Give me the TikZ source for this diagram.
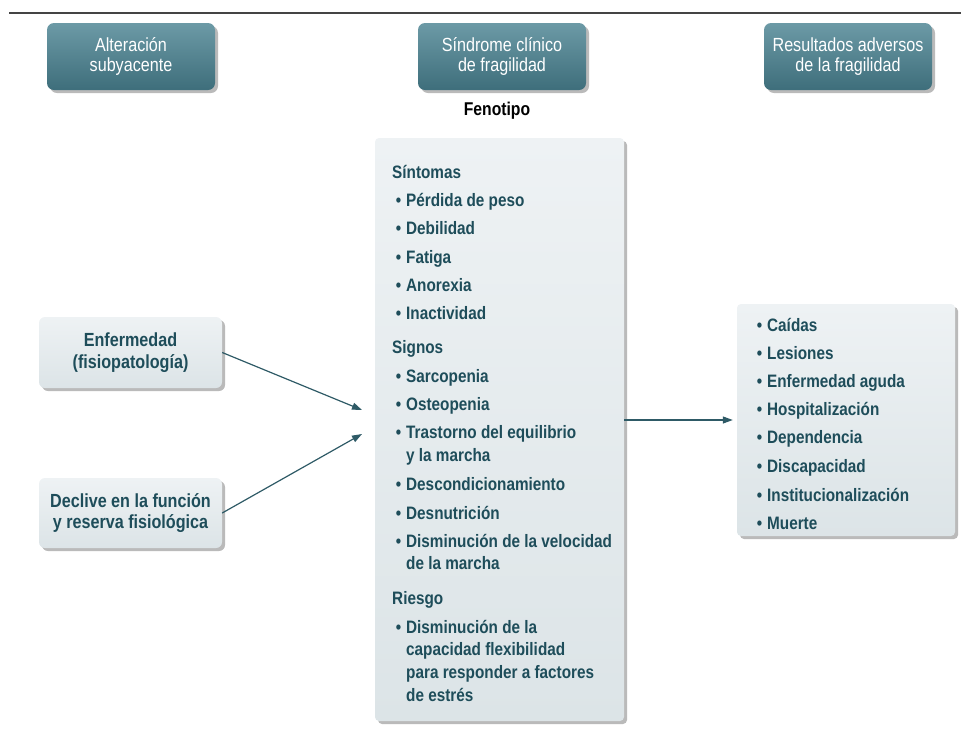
\documentclass[tikz,border=0pt]{standalone}
\usepackage{fontspec}
\setmainfont{Liberation Sans}[FakeStretch=0.85]
\usetikzlibrary{shadows,arrows.meta}
\definecolor{hdrtop}{HTML}{6C9AA6}
\definecolor{hdrbot}{HTML}{3E6E7B}
\definecolor{boxtop}{HTML}{EEF2F4}
\definecolor{boxbot}{HTML}{DCE4E7}
\definecolor{txtc}{HTML}{1E4D5A}
\definecolor{arrc}{HTML}{2E5A66}
\definecolor{linec}{HTML}{444444}
\newcommand{\hdrfont}{\fontsize{19}{20.5}\selectfont}
\newcommand{\lbfont}{\bfseries\fontsize{19}{21.5}\selectfont}
\newcommand{\bodyfont}{\bfseries\fontsize{18}{22}\selectfont}
\newcommand{\bul}{\llap{\textbullet\hspace{5pt}}}
\begin{document}
\begin{tikzpicture}[x=1pt,y=-1pt,
  shad/.style={drop shadow={shadow xshift=3pt,shadow yshift=-3pt,fill=black!45,opacity=0.6}},
  hdr/.style={rounded corners=7pt,top color=hdrtop,bottom color=hdrbot,draw=none,shad,
    minimum width=168pt,minimum height=67pt,align=center,text=white,font=\hdrfont,inner sep=0pt},
  lbox/.style={rounded corners=6pt,top color=boxtop,bottom color=boxbot,draw=none,shad,
    align=center,text=txtc,font=\lbfont,inner sep=0pt},
  bigbox/.style={rounded corners=4pt,top color=boxtop,bottom color=boxbot,draw=none,shad,inner sep=0pt},
  itm/.style={anchor=base west,inner sep=0pt,text=txtc,font=\bodyfont},
  arr/.style={draw=arrc,line width=1.2pt,-{Triangle[length=10pt,width=7pt]}}]
\useasboundingbox (0,0) rectangle (961,729);
% top rule
\coordinate (r1) at (9,13);
\coordinate (r2) at (961,13);
\draw[linec,line width=1.5pt] (r1) -- (r2);
% headers
\node[hdr] (h1) at (131,56.5) {Alteración\\subyacente};
\node[hdr] (h2) at (502,56.5) {Síndrome clínico\\de fragilidad};
\node[hdr] (h3) at (848,56.5) {Resultados adversos\\de la fragilidad};
\node[font=\bfseries\fontsize{18.5}{20}\selectfont,text=black,inner sep=0pt] (fen) at (497,111) {Fenotipo};
% left boxes
\node[lbox,minimum width=183pt,minimum height=71pt] (e1) at (130.5,352.5) {Enfermedad\\(fisiopatología)};
\node[lbox,minimum width=183pt,minimum height=70pt] (e2) at (130.5,513) {Declive en la función\\y reserva fisiológica};
% central box
\node[bigbox,minimum width=249pt,minimum height=583pt] (cb) at (499.5,429.5) {};
% right box
\node[bigbox,minimum width=218pt,minimum height=232pt] (rb) at (846,420) {};
% central text
\node[itm] (c0) at (392,178) {Síntomas};
\node[itm] (c1) at (406,206) {\bul Pérdida de peso};
\node[itm] (c2) at (406,234) {\bul Debilidad};
\node[itm] (c3) at (406,263) {\bul Fatiga};
\node[itm] (c4) at (406,291) {\bul Anorexia};
\node[itm] (c5) at (406,319) {\bul Inactividad};
\node[itm] (c6) at (392,353) {Signos};
\node[itm] (c7) at (406,382) {\bul Sarcopenia};
\node[itm] (c8) at (406,410) {\bul Osteopenia};
\node[itm] (c9) at (406,438) {\bul Trastorno del equilibrio};
\node[itm] (c10) at (406,461) {y la marcha};
\node[itm] (c11) at (406,490) {\bul Descondicionamiento};
\node[itm] (c12) at (406,519) {\bul Desnutrición};
\node[itm] (c13) at (406,547) {\bul Disminución de la velocidad};
\node[itm] (c14) at (406,569) {de la marcha};
\node[itm] (c15) at (392,604) {Riesgo};
\node[itm] (c16) at (406,633) {\bul Disminución de la};
\node[itm] (c17) at (406,655) {capacidad flexibilidad};
\node[itm] (c18) at (406,678) {para responder a factores};
\node[itm] (c19) at (406,701) {de estrés};
% right text
\node[itm] (d1) at (767,331) {\bul Caídas};
\node[itm] (d2) at (767,359) {\bul Lesiones};
\node[itm] (d3) at (767,387) {\bul Enfermedad aguda};
\node[itm] (d4) at (767,415) {\bul Hospitalización};
\node[itm] (d5) at (767,443) {\bul Dependencia};
\node[itm] (d6) at (767,472) {\bul Discapacidad};
\node[itm] (d7) at (767,501) {\bul Institucionalización};
\node[itm] (d8) at (767,529) {\bul Muerte};
% arrows
\coordinate (t1) at (362,410);
\coordinate (t2) at (362,434);
\draw[arr] (e1.east) -- (t1);
\draw[arr] (e2.east) -- (t2);
\draw[arr,shorten >=4pt] (cb.east |- rb.west) -- (rb.west);
\end{tikzpicture}
\end{document}
